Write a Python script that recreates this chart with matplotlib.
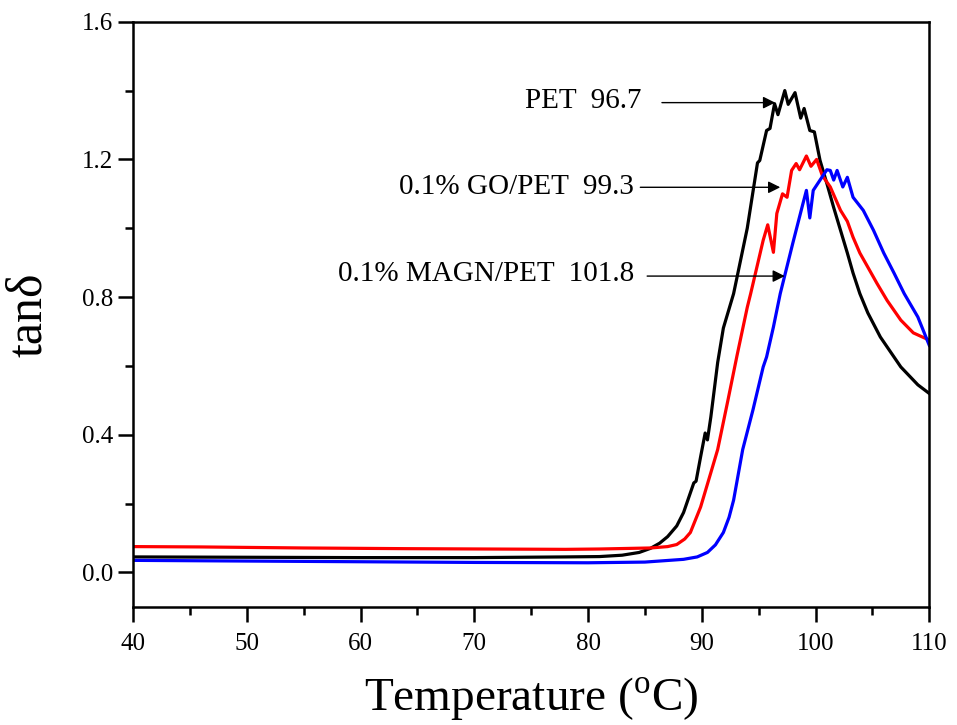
import matplotlib
matplotlib.use('Agg')
from matplotlib import pyplot as plt
from matplotlib.ticker import AutoMinorLocator, FormatStrFormatter

plt.rcParams['font.family'] = ['Liberation Serif', 'DejaVu Serif']
plt.rcParams['mathtext.fontset'] = 'custom'
plt.rcParams['mathtext.rm'] = 'Liberation Serif'

# PET
pet_t = [40, 50, 60, 70, 78, 81, 83, 84.5, 85.5, 86.3, 87, 87.8, 88.4, 89.3, 89.5, 89.9, 90.3,
         90.5, 90.8, 91.4, 91.9, 92.8, 94.0, 94.9, 95.1, 95.7, 96.0, 96.4, 96.7, 97.3, 97.6,
         98.2, 98.7, 99.0, 99.5, 99.9, 100.4, 101.0, 101.6, 102.2, 102.8, 103.3, 103.9, 104.6,
         105.7, 106.9, 107.5, 109.0, 110]
pet_tan = [0.045, 0.044, 0.043, 0.043, 0.045, 0.046, 0.050, 0.058, 0.070, 0.085, 0.104, 0.135,
           0.174, 0.26, 0.265, 0.336, 0.405, 0.385, 0.452, 0.61, 0.71, 0.81, 1.0, 1.19, 1.197,
           1.284, 1.29, 1.362, 1.33, 1.40, 1.36, 1.394, 1.32, 1.348, 1.284, 1.28, 1.197, 1.13,
           1.06, 0.994, 0.928, 0.87, 0.81, 0.754, 0.684, 0.626, 0.597, 0.545, 0.52]

# 0.1% GO/PET
go_t = [40, 46, 55, 64, 78, 81, 85.5, 87.0, 87.8, 88.5, 89.0, 89.9, 90.8, 91.4, 92.3, 93.1,
        94.0, 94.3, 95.4, 95.8, 96.3, 96.6, 97.1, 97.5, 97.9, 98.3, 98.6, 99.2, 99.6, 100.1,
        100.6, 101.3, 102.2, 102.8, 103.3, 103.9, 104.6, 105.4, 106.3, 107.5, 108.6, 110]
go_tan = [0.075, 0.074, 0.071, 0.069, 0.067, 0.068, 0.071, 0.075, 0.081, 0.097, 0.116, 0.19,
          0.29, 0.357, 0.50, 0.63, 0.77, 0.81, 0.965, 1.01, 0.93, 1.043, 1.10, 1.09, 1.168,
          1.188, 1.17, 1.21, 1.18, 1.20, 1.153, 1.12, 1.052, 1.02, 0.974, 0.928, 0.887, 0.84,
          0.79, 0.733, 0.696, 0.675]

# 0.1% MAGN/PET
magn_t = [40, 50, 60, 70, 80, 85, 88.4, 89.6, 90.5, 91.2, 91.9, 92.4, 92.8, 93.6, 94.5, 95.4,
          95.7, 96.3, 96.9, 98.0, 98.9, 99.2, 99.5, 99.8, 100.4, 101.0, 101.3, 101.6, 101.9,
          102.4, 102.8, 103.3, 104.2, 105.1, 106.0, 106.9, 107.8, 109.0, 110]
magn_tan = [0.035, 0.033, 0.031, 0.029, 0.028, 0.030, 0.038, 0.045, 0.058, 0.080, 0.116, 0.16,
            0.21, 0.357, 0.472, 0.597, 0.626, 0.713, 0.81, 0.956, 1.072, 1.11, 1.03, 1.11, 1.14,
            1.17, 1.168, 1.14, 1.168, 1.12, 1.148, 1.09, 1.052, 0.994, 0.928, 0.87, 0.81,
            0.742, 0.66]

# label text, text end (x, y), arrow tail x, arrow tip (x, y)
labels = ['PET  96.7', '0.1% GO/PET  99.3', '0.1% MAGN/PET  101.8']
label_x = [84.7, 84.0, 84.1]
label_y = [1.37, 1.119, 0.866]
tail_x = [86.5, 84.6, 85.2]
tip_x = [96.45, 96.9, 97.3]
tip_y = [1.365, 1.119, 0.861]

fig = plt.figure(figsize=(9.57, 7.25), dpi=100)
ax = fig.add_axes([0.139, 0.163, 0.832, 0.807])

ax.plot(pet_t, pet_tan, color='black', lw=2.3)
ax.plot(go_t, go_tan, color='red', lw=2.3)
ax.plot(magn_t, magn_tan, color='blue', lw=2.3)

for txt, lx, ly, tx, px, py in zip(labels, label_x, label_y, tail_x, tip_x, tip_y):
    ax.text(lx, ly, txt, ha='right', va='center', fontsize=21)
    ax.annotate('', xy=(px, py), xytext=(tx, py),
                arrowprops=dict(arrowstyle='-|>', color='black', lw=1.0,
                                mutation_scale=18, shrinkA=0, shrinkB=0))

ax.set_xlim(40, 110)
ax.set_ylim(-0.1, 1.6)
ax.set_xticks([40, 50, 60, 70, 80, 90, 100, 110])
ax.set_yticks([0.0, 0.4, 0.8, 1.2, 1.6])
ax.yaxis.set_major_formatter(FormatStrFormatter('%.1f'))
ax.xaxis.set_minor_locator(AutoMinorLocator(2))
ax.yaxis.set_minor_locator(AutoMinorLocator(2))
ax.tick_params(which='major', direction='out', length=11, width=1.8, labelsize=18)
ax.tick_params(which='minor', direction='out', length=6, width=1.8)
ax.tick_params(axis='x', which='major', pad=8)
ax.tick_params(axis='y', which='major', pad=3)
for s in ax.spines.values():
    s.set_linewidth(1.8)

ax.set_xlabel(r'Temperature ($^{\rm o}$C)', fontsize=34, labelpad=14)
ax.set_ylabel('tanδ', fontsize=36, labelpad=22)

fig.savefig('out.png', dpi=100)
